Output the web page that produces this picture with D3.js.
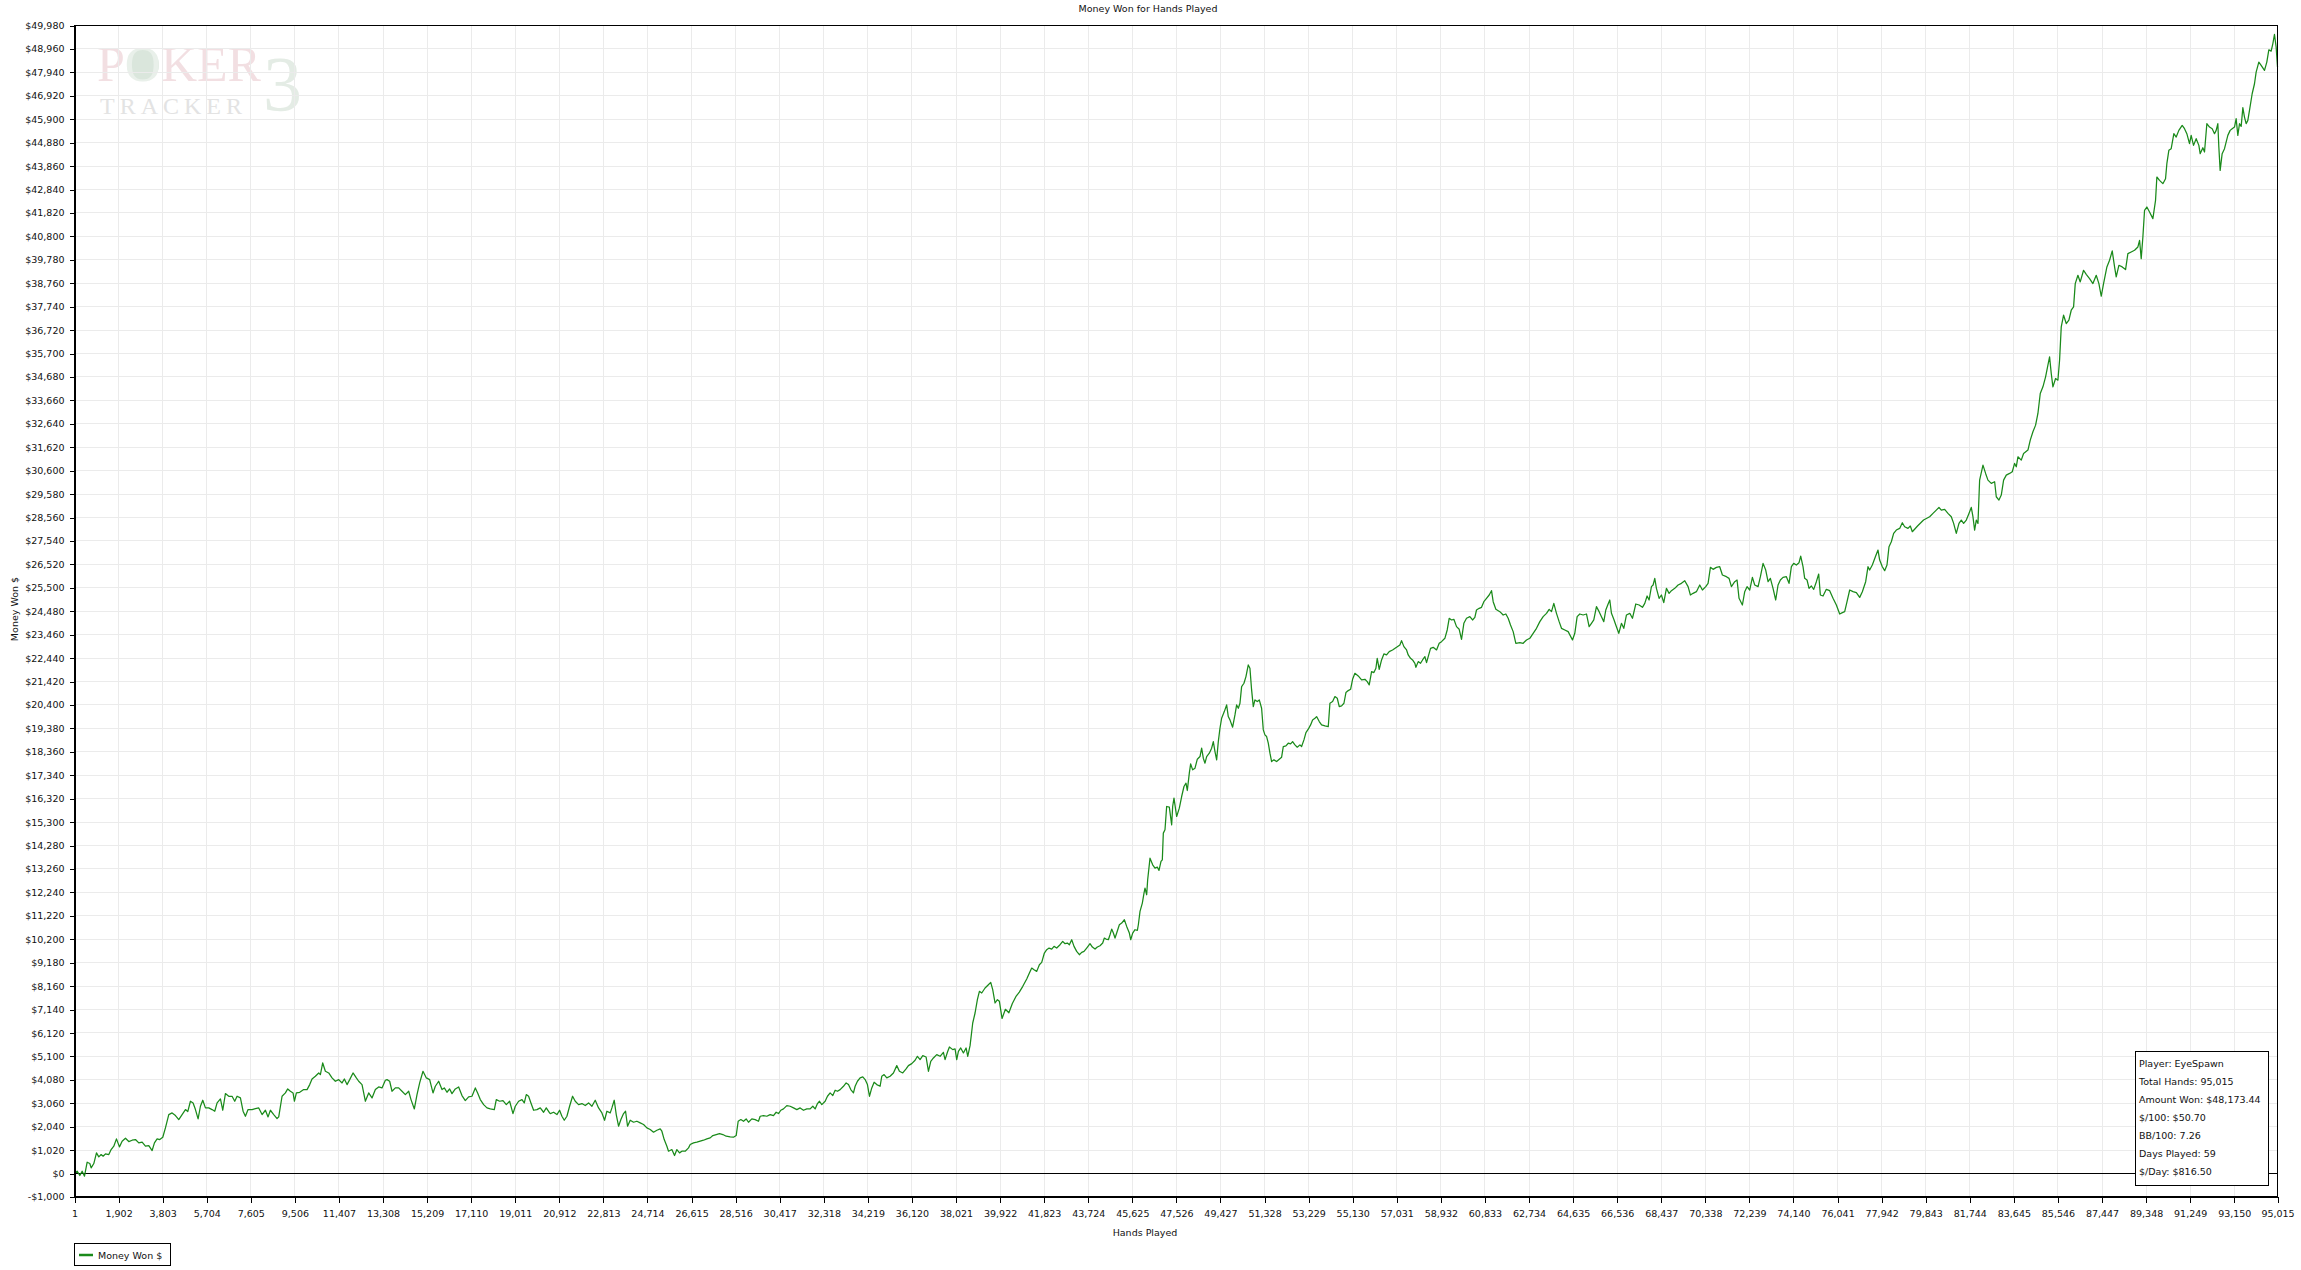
<!DOCTYPE html>
<html><head><meta charset="utf-8">
<script src="https://cdn.jsdelivr.net/npm/d3@7"></script>
<style>
body{margin:0;background:#fff}
svg{display:block}
</style>
</head><body>
<svg id="c" width="2301" height="1270"></svg>
<script>
const chartTitle = "Money Won for Hands Played";
const xTitle = "Hands Played";
const yTitle = "Money Won $";
const seriesName = "Money Won $";

const hands = [
1,115,230,331,432,547,662,719,834,949,1049,1150,1236,1337,1481,1581,1696,1811,1940,2055,2199,2343,2486,2630,2774,2918,3061,3205,3349,3449,3564,3679,3808,3923,4067,4211,4355,4498,4642,4786,4886,5001,5116,5217,5332,5432,5533,5648,5792,5935,6050,6151,6295,6395,6510,6654,6797,6912,7013,7157,7272,7372,7487,7660,7803,7947,8091,8235,8349,8450,8594,8737,8809,8953,9097,9197,9312,9427,9485,9571,9715,9887,10031,10146,10246,10390,10534,10606,10706,10821,10965,11108,11252,11396,11540,11640,11755,11870,12014,12157,12258,12402,12545,12689,12833,12977,13120,13264,13408,13480,13594,13695,13839,13982,14126,14270,14414,14514,14658,14773,14888,15031,15175,15319,15463,15563,15707,15851,15951,16066,16181,16282,16425,16569,16713,16856,17000,17144,17288,17388,17503,17647,17791,17934,18107,18193,18337,18481,18624,18768,18912,19012,19156,19300,19400,19486,19586,19687,19802,19945,20089,20233,20348,20491,
20520,20664,20808,20922,21023,21124,21239,21354,21483,21598,21742,21886,22029,22173,22317,22460,22604,22748,22862,22963,23107,23179,23279,23366,23466,23567,23682,23768,23854,23969,24113,24256,24400,24544,24687,24831,24975,25119,25262,25334,25435,25550,25621,25765,25880,25981,26096,26196,26340,26484,26556,26699,26843,26987,27131,27274,27418,27533,27677,27821,27964,28108,28280,28424,28539,28625,28740,28855,28970,29070,29214,29358,29501,29573,29717,29861,30005,30148,30263,30364,30464,30579,30723,30867,31011,31154,31298,31442,31585,31729,31844,31945,32045,32131,32232,32376,32476,32591,32706,32807,32907,33022,33166,33281,33382,33482,33597,33669,33769,33884,33999,34100,34200,34287,34387,34488,34603,34746,34818,34919,35034,35177,35321,35465,35579,35723,35867,35967,36111,36255,36355,36471,36586,36729,36830,36931,37046,37189,37333,37476,37548,37649,37735,37879,37979,38051,38123,38224,38339,38454,38526,38626,38741,38842,38942,39029,39129,39273,39417,39517,39603,39704,39805,39891,
40006,40150,40300,40450,40600,40750,40900,
41070,41185,41285,41386,41501,41616,41716,41831,41932,42033,42148,42248,42363,42507,42622,42722,42823,42909,43010,43110,43225,43340,43441,43541,43656,43800,43901,44016,44116,44231,44346,44418,44490,44591,44662,44734,44806,44878,44950,45065,45166,45281,45381,45496,45554,45640,45740,45841,45884,45956,46056,46128,46171,46243,46286,46387,46502,46602,46703,46775,46861,46918,46961,47033,47105,47220,47321,47364,47421,47536,47651,47752,47852,47939,47996,48082,48140,48226,48327,48427,48542,48614,48686,48758,48830,48944,49045,49117,49189,49261,49333,49404,49476,49591,49692,49763,49835,49950,50051,50123,50195,50267,50338,50439,50525,50625,50697,50769,50841,50913,51014,51100,51200,51273,51344,51416,51488,51560,51632,51732,51847,51962,52063,52135,52249,52350,52451,52537,52637,52738,52853,52925,53026,53112,53212,53313,53399,53500,53572,53687,53787,53931,54075,54147,54262,54363,54463,54549,54650,54751,54837,54937,55038,55124,55224,55368,55512,55656,55756,55842,55943,56043,56130,56187,56273,56374,56474,56589,56704,56848,57020,
57164,57236,57337,57452,57523,57624,57710,57811,57854,57955,58055,58141,58242,58314,58386,58486,58601,58745,58860,58960,59104,59205,59291,59391,59492,59607,59722,59822,59923,60038,60182,60297,60397,60469,60584,60685,60785,60900,61015,61116,61188,61303,61475,61619,61734,61834,61935,62050,62165,62337,62481,62625,62768,62912,63056,63200,63343,63487,63602,63703,63803,63918,64033,64134,64277,64421,64608,64708,64809,64924,65067,65211,65326,65427,65527,65642,65757,65858,65958,66045,66145,66217,66289,66390,66476,66605,66720,66821,66936,67080,67194,67338,67482,67626,67726,67827,67913,68013,68085,68157,68229,68344,68444,68545,68660,68775,68876,69019,69163,69306,69450,69594,69694,69809,69953,70097,70212,70356,70456,70557,70672,70815,70959,71074,71246,71361,71462,71606,71706,71792,71936,72037,72137,72252,72368,72468,72612,72713,72828,72942,73043,73143,73258,73373,73474,73574,73689,73833,73948,74049,74149,74264,74379,74451,74551,74623,74724,74811,74911,75012,75127,75227,75299,75414,75557,75701,75845,75989,76133,76248,76348,76449,76564,76707,76851,76995,77110,77253,77354,77425,77540,77684,77785,77857,77972,78072,78173,78259,78360,78460,78575,78719,78834,78934,79078,79179,79265,
79500,79750,
80012,80156,80299,80414,80515,80659,80802,80946,81047,81162,81277,81377,81478,81593,81708,81808,81880,81952,82024,82096,82168,82312,82426,82527,82671,82815,82886,83001,83102,83202,83317,83461,83576,83676,83748,83820,83964,84064,84251,84352,84467,84582,84682,84783,84898,85013,85113,85185,85257,85329,85444,85544,85616,85688,85789,85904,86018,86119,86220,86292,86407,86507,86651,86766,86910,87054,87197,87312,87413,87513,87657,87772,87887,87988,88059,88174,88318,88462,88562,88706,88850,88994,89066,89137,89209,89281,89381,89496,89640,89755,89812,89927,90071,90186,90243,90329,90430,90545,90646,90760,90904,91005,91105,91220,91292,91393,91508,91623,91680,91795,91867,91968,92083,92198,92298,92370,92442,92485,92542,92628,92729,92873,92973,93060,93160,93232,93304,93376,93448,93520,93591,93663,93735,93807,93922,94023,94094,94209,94310,94454,94554,94641,94741,94813,94885,94957,95015
];

const moneyWon = [
0,102,-87,102,-116,493,435,246,435,899,725,826,754,856,826,1044,1189,1508,1160,1407,1537,1392,1450,1479,1334,1363,1189,1218,1001,1334,1508,1479,1580,1987,2567,2639,2523,2349,2567,2784,2697,3147,3074,2784,2378,2929,3190,2857,2857,2784,2712,3074,3248,2755,3480,3364,3364,3147,3364,3292,2712,2494,2784,2784,2828,2857,2567,2755,2465,2755,2567,2393,2465,3364,3509,3683,3582,3509,3147,3509,3538,3654,3654,3872,4118,4234,4379,4307,4814,4452,4379,4162,4017,4089,3944,4118,3872,4089,4379,4162,4017,3872,3147,3509,3292,3654,3770,3727,4060,4089,4017,3582,3727,3727,3582,3437,3582,3219,2813,3437,3944,4452,4162,4089,3509,3799,4017,3654,3727,3538,3683,3480,3683,3770,3393,3175,3335,3364,3727,3509,3219,3002,2857,2813,2784,3219,3147,3175,3002,3147,2610,2929,3147,3219,3074,3437,3364,3074,2755,2784,2857,2668,2857,2639,
2610,2668,2567,2755,2494,2320,2494,2929,3364,3147,3002,3045,2958,3074,2929,3190,2857,2639,2320,2712,2639,2857,3190,2567,2059,2349,2610,2712,2059,2320,2233,2276,2204,2132,1987,1914,1798,1885,1943,1842,1479,1189,972,1044,783,1044,899,972,972,1116,1261,1334,1363,1407,1450,1508,1552,1653,1697,1740,1697,1624,1595,1581,1653,2276,2349,2276,2378,2233,2378,2349,2276,2494,2523,2494,2567,2523,2668,2610,2755,2813,2958,2929,2857,2784,2857,2755,2813,2813,2929,2813,3045,3147,3002,3147,3364,3509,3393,3625,3582,3654,3799,3944,3872,3654,3509,3799,4017,4162,4205,4089,3872,3364,3727,3973,3872,3799,4234,4307,4162,4234,4379,4698,4452,4379,4553,4698,4785,4930,5104,4959,5133,5075,4452,4887,5031,5177,5104,5278,4959,5278,5510,5394,5423,4959,5322,5467,5249,5467,5104,5568,6554,6989,7569,7931,7859,8077,8221,8323,8004,7424,7569,7496,
6750,7150,7000,7400,7700,7900,8150,
8468,8729,8946,8874,8801,9091,9193,9599,9744,9816,9773,9889,9816,9961,10106,10005,10034,9961,10179,9889,9671,9526,9628,9671,9816,10005,9860,9773,9860,9918,10034,10251,10208,10179,10396,10643,10469,10251,10469,10831,10904,11049,10759,10469,10179,10469,10614,10585,10831,11411,11774,12209,12427,12137,12789,13732,13442,13297,13340,13195,13587,13659,14819,14964,15979,15950,15182,15979,16341,15544,15907,16414,16849,16994,16675,17429,17835,17574,17646,18038,18154,18516,18081,17864,18154,18299,18516,18806,18371,18009,18806,19386,19821,20111,20401,19894,19749,19430,19966,20401,20256,20474,21199,21344,21634,22142,21996,21054,20329,20619,20546,20619,20256,19314,19096,19024,18734,18299,17936,18009,17936,18038,18125,18589,18618,18734,18705,18806,18661,18560,18661,18589,18879,19198,19343,19531,19749,19821,19894,19676,19531,19488,19459,20474,20546,20764,20691,20329,20358,20474,20938,21025,21083,21518,21779,21663,21489,21518,21416,21271,21851,21808,21996,22432,21953,22359,22620,22577,22722,22794,22910,
23012,23200,22939,22794,22576,22431,22359,22214,22040,22286,22214,22359,22504,22243,22504,22866,22910,22794,23084,23156,23301,23664,24172,24099,24128,23809,23693,23258,23954,24172,24244,24099,24215,24534,24606,24650,24896,25041,25186,25375,24896,24563,24461,24316,24360,24172,23882,23592,23084,23113,23084,23229,23301,23519,23736,24027,24244,24389,24563,24461,24824,24389,24027,23736,23664,23592,23229,23519,24244,24360,24316,24360,23809,23954,24099,24679,24461,24244,24027,24534,24795,24969,24389,24128,23882,23519,23954,23736,24316,24389,24172,24795,24752,24650,24824,25143,24969,25549,25621,25911,25476,25041,25186,24853,25476,25259,25375,25476,25621,25694,25810,25549,25186,25259,25331,25621,25404,25549,25694,26390,26303,26390,26419,26057,25984,25911,25549,25766,25839,25041,24751,25331,25549,25404,25955,25621,25549,25984,26564,26274,25766,25911,25476,24969,25621,25839,25955,25984,25694,26419,26564,26491,26593,26883,26419,25911,25839,25476,25578,25433,25766,26100,25186,25143,25433,25375,25041,24751,24360,24418,24461,24896,25404,25331,25288,25083,25331,25766,26419,26274,26491,26883,27144,26709,26419,26245,26491,27289,27506,27869,28014,28086,28333,28159,28086,28188,27941,
28200,28450,
28594,28739,28884,29000,28884,28913,28739,28594,28304,27869,28304,28449,28304,28449,28739,29000,28594,28014,28449,28304,30189,30842,30479,30189,30044,30117,29464,29319,29536,30189,30407,30479,30552,30914,30769,31204,31059,31349,31494,31929,32292,32582,33089,33959,34249,34684,35192,35554,34829,34249,34612,34539,35409,36859,37367,37004,37149,37584,37729,38744,39106,38816,39324,39149,38961,38744,39106,38744,38193,38744,39469,39759,40165,39469,39034,39541,39469,39353,40049,40121,40194,40339,40629,39831,40774,41934,42079,41861,41571,42369,43384,43239,43094,43311,43964,44544,44616,45269,45124,45414,45631,45486,45269,44834,45197,44761,45052,44761,44399,44660,44471,45704,45559,45486,45269,45414,45704,44689,43674,44399,44616,45197,45414,45486,45559,45921,45197,45704,45588,46400,45994,45704,45849,46284,47009,47444,47951,48386,48241,48024,48386,48923,48865,49184,49590,49039,48173
];

const xTicks = [1,1902,3803,5704,7605,9506,11407,13308,15209,17110,19011,20912,22813,24714,26615,28516,30417,32318,34219,36120,38021,39922,41823,43724,45625,47526,49427,51328,53229,55130,57031,58932,60833,62734,64635,66536,68437,70338,72239,74140,76041,77942,79843,81744,83645,85546,87447,89348,91249,93150,95015];
const yTicks = [-1000,0,1020,2040,3060,4080,5100,6120,7140,8160,9180,10200,11220,12240,13260,14280,15300,16320,17340,18360,19380,20400,21420,22440,23460,24480,25500,26520,27540,28560,29580,30600,31620,32640,33660,34680,35700,36720,37740,38760,39780,40800,41820,42840,43860,44880,45900,46920,47940,48960,49980];
const infoLines = ["Player: EyeSpawn","Total Hands: 95,015","Amount Won: $48,173.44","$/100: $50.70","BB/100: 7.26","Days Played: 59","$/Day: $816.50"];

const svg = d3.select("#c");
const SANS = "'DejaVu Sans', sans-serif";
const SERIF = "'Liberation Serif', 'DejaVu Serif', serif";
const FS = "9.5px";
const L = 74.5, R = 2277.5, T = 25.5, B = 1196.5;
const x = d3.scaleLinear().domain([1, 95015]).range([L, R]);
const y = d3.scaleLinear().domain([-1000, 49980]).range([B, T]);
const lineColor = "#1a8a1a";

svg.append("rect").attr("width",2301).attr("height",1270).attr("fill","#fff");

// watermark logo
const logo = svg.append("g").attr("class","logo");
logo.append("circle").attr("cx",143).attr("cy",65).attr("r",16).attr("fill","#dae6dc");
const pk = logo.append("text").attr("x",97).attr("y",81).style("font-family",SERIF).style("font-size","50px");
pk.append("tspan").attr("fill","#f2dfe2").text("P");
pk.append("tspan").attr("fill","#e9f0ea").text("O");
pk.append("tspan").attr("fill","#f2dfe2").text("KER");
logo.append("text").attr("x",263).attr("y",110).style("font-family",SERIF).style("font-size","78px").attr("fill","#e4ece5").text("3");
logo.append("text").attr("x",100).attr("y",114).style("font-family",SERIF).style("font-size","24px").style("letter-spacing","5px").attr("fill","#e3e3e3").text("TRACKER");

// gridlines
const grid = svg.append("g").attr("shape-rendering","crispEdges");
grid.selectAll("line.v").data(xTicks).join("line").attr("class","v")
  .attr("x1",d=>x(d)).attr("x2",d=>x(d)).attr("y1",T).attr("y2",B)
  .attr("stroke","#ebebeb").attr("stroke-width",1);
grid.selectAll("line.h").data(yTicks).join("line").attr("class","h")
  .attr("x1",L).attr("x2",R).attr("y1",d=>y(d)).attr("y2",d=>y(d))
  .attr("stroke","#ebebeb").attr("stroke-width",1);

// zero line
svg.append("line").attr("x1",L).attr("x2",R).attr("y1",y(0)).attr("y2",y(0))
  .attr("stroke","#000").attr("stroke-width",1).attr("shape-rendering","crispEdges");

// data line
const line = d3.line().x(i=>x(hands[i])).y(i=>y(moneyWon[i]));
svg.append("path").attr("d", line(d3.range(hands.length)))
  .attr("fill","none").attr("stroke",lineColor).attr("stroke-width",1.25).attr("stroke-linejoin","round");

// frame
svg.append("rect").attr("x",L).attr("y",T).attr("width",R-L).attr("height",B-T)
  .attr("fill","none").attr("stroke","#000").attr("stroke-width",1).attr("shape-rendering","crispEdges");

// axes
const fmtY = v => (v < 0 ? "-$" : "$") + d3.format(",")(Math.abs(v));
const yAxis = svg.append("g").attr("transform",`translate(${L},0)`)
  .call(d3.axisLeft(y).tickValues(yTicks).tickFormat(fmtY).tickSize(5).tickPadding(5));
const xAxis = svg.append("g").attr("transform",`translate(0,${B})`)
  .call(d3.axisBottom(x).tickValues(xTicks).tickFormat(d3.format(",")).tickSize(6).tickPadding(8));
[yAxis,xAxis].forEach(a=>{
  a.attr("font-family",null).attr("font-size",null);
  a.select(".domain").attr("stroke","#000").attr("shape-rendering","crispEdges");
  a.selectAll(".tick line").attr("stroke","#000").attr("shape-rendering","crispEdges");
  a.selectAll(".tick text").style("font-family",SANS).style("font-size",FS).attr("fill","#111");
});

// titles
const txt = (sel) => sel.style("font-family",SANS).style("font-size",FS).attr("fill","#111");
txt(svg.append("text").attr("x",1148).attr("y",11.5).attr("text-anchor","middle").text(chartTitle));
txt(svg.append("text").attr("x",1145).attr("y",1236).attr("text-anchor","middle").text(xTitle));
txt(svg.append("text").attr("transform","translate(17.5,609) rotate(-90)").attr("text-anchor","middle").text(yTitle));

// legend
const lg = svg.append("g");
lg.append("rect").attr("x",74.5).attr("y",1243.5).attr("width",96).attr("height",22).attr("fill","#fff").attr("stroke","#000").attr("shape-rendering","crispEdges");
lg.append("line").attr("x1",79).attr("x2",93).attr("y1",1255).attr("y2",1255).attr("stroke",lineColor).attr("stroke-width",2.5);
txt(lg.append("text").attr("x",98).attr("y",1258.5).text(seriesName));

// info box
const ib = svg.append("g");
ib.append("rect").attr("x",2135.5).attr("y",1051.5).attr("width",133).attr("height",134).attr("fill","#fff").attr("stroke","#000").attr("shape-rendering","crispEdges");
txt(ib.selectAll("text").data(infoLines).join("text")
  .attr("x",2139).attr("y",(d,i)=>1066.5 + i*18).text(d=>d));
</script>
</body></html>
